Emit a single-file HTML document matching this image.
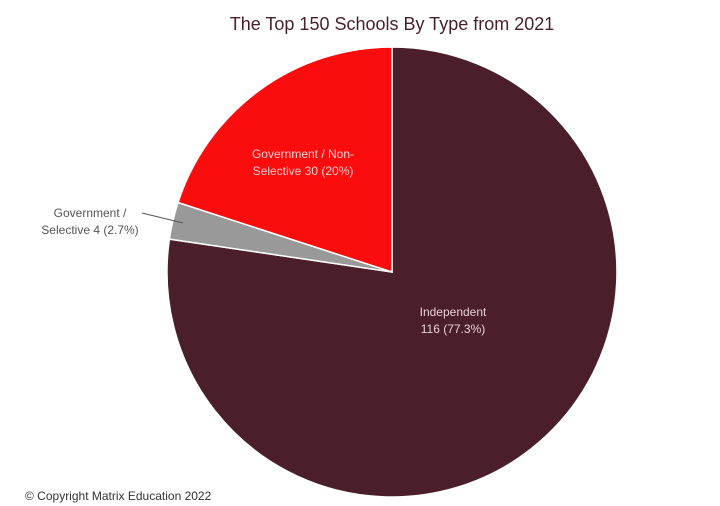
<!DOCTYPE html>
<html><head><style>
body{margin:0;background:#fff;}
svg{display:block;font-family:"Liberation Sans",sans-serif;}
</style></head><body>
<svg width="720" height="506" viewBox="0 0 720 506">
<rect width="720" height="506" fill="#fff"/>
<text x="392" y="30" text-anchor="middle" font-size="18" fill="#4a1f2b">The Top 150 Schools By Type from 2021</text>
<path d="M392,272 L392,47 A225,225 0 1 1 169.4,239.1 Z" fill="#4a1f2b" stroke="#fff" stroke-width="1.5"/>
<path d="M392,272 L169.4,239.1 A225,225 0 0 1 178,202.5 Z" fill="#999999" stroke="#fff" stroke-width="1.5"/>
<path d="M392,272 L178,202.5 A225,225 0 0 1 392,47 Z" fill="#fc0d0d" stroke="#fff" stroke-width="1.5"/>
<text x="303" y="158" text-anchor="middle" font-size="12" fill="#f6d0d0">Government / Non-</text>
<text x="303" y="175" text-anchor="middle" font-size="12" fill="#f6d0d0">Selective 30 (20%)</text>
<text x="90" y="217" text-anchor="middle" font-size="12" fill="#555">Government /</text>
<text x="90" y="234" text-anchor="middle" font-size="12" fill="#555">Selective 4 (2.7%)</text>
<line x1="142" y1="213" x2="183" y2="223" stroke="#555" stroke-width="1"/>
<text x="453" y="316" text-anchor="middle" font-size="12" fill="#e8d0d6">Independent</text>
<text x="453" y="333" text-anchor="middle" font-size="12" fill="#e8d0d6">116 (77.3%)</text>
<text x="25" y="500" font-size="12" fill="#333">© Copyright Matrix Education 2022</text>
</svg>
</body></html>
